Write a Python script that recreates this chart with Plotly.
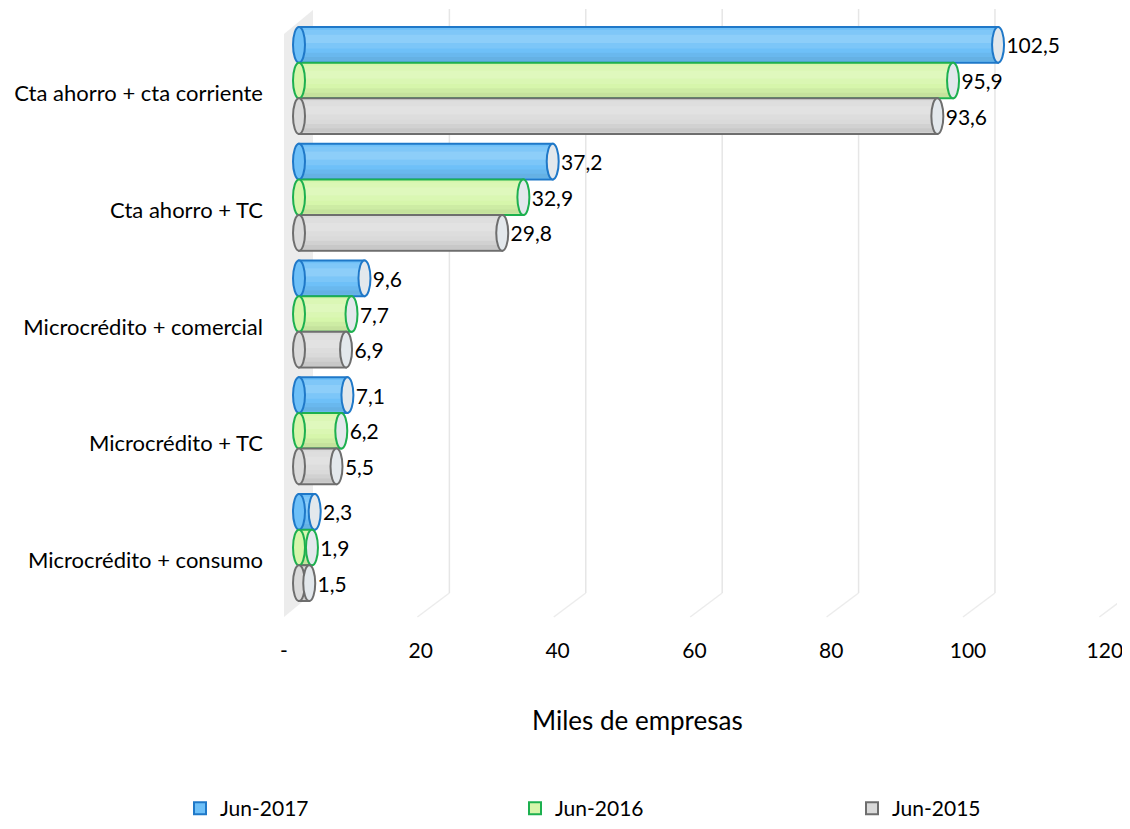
import plotly.graph_objects as go

categories = ["Cta ahorro + cta corriente", "Cta ahorro + TC", "Microcrédito + comercial",
              "Microcrédito + TC", "Microcrédito + consumo"]
series_names = ["Jun-2017", "Jun-2016", "Jun-2015"]
jun_2017 = [102.5, 37.2, 9.6, 7.1, 2.3]
jun_2016 = [95.9, 32.9, 7.7, 6.2, 1.9]
jun_2015 = [93.6, 29.8, 6.9, 5.5, 1.5]
tick_values = [0, 20, 40, 60, 80, 100, 120]
tick_labels = ["-", "20", "40", "60", "80", "100", "120"]

values = [jun_2017, jun_2016, jun_2015]
fills = ["#6ec0f8", "#d6f6ab", "#dadada"]
edges = ["#1f78c8", "#1db04f", "#6e6e6e"]
cap_fill = "#e3e8ec"

OFF = 8                       # page body margin
W, H = 1130 - OFF, 829 - OFF
PL, PR, PT, PB = 280, 1117, 8, 606   # plot area in reference pixels
L, T = PL - OFF, PT - OFF
R, B = W - (PR - OFF), H - (PB - OFF)
pw, ph = PR - PL, PB - PT
FONT = "Lato"

def X(px):
    return (px - PL) / pw

def Y(py):
    return (PB - py) / ph

bargap = 0.083
bw = (1 - bargap) / 3
x_scale = 6.82          # px per unit (bar plane)
x_min = -(299 - PL) / x_scale
x_max = x_min + pw / x_scale
depth = 2.05            # back plane offset in data units
cap_half = 6 / x_scale
front_scale = 6.84
front_min = -(284 - PL) / front_scale

legend_ids = ["legend", "legend2", "legend3"]
legend_left = [180, 515, 852]

fig = go.Figure()
for k, (name, vals) in enumerate(zip(series_names, values)):
    fig.add_trace(go.Bar(
        name=name, y=categories, x=vals, orientation="h", legend=legend_ids[k],
        marker=dict(color=fills[k], line=dict(color=edges[k], width=2)),
        texttemplate="\u00a0%{x:.1f}", textposition="outside",
        textfont=dict(family=FONT, size=21, color="#000000"),
        cliponaxis=False,
    ))

fig.add_trace(go.Scatter(x=[0], y=[categories[0]], xaxis="x2", mode="markers",
                         marker=dict(opacity=0), showlegend=False, hoverinfo="skip"))

shapes = []
# left wall
shapes.append(dict(type="path", xref="paper", yref="paper", layer="below",
                   path=f"M {X(284)},{Y(34)} L {X(313)},{Y(10)} L {X(313)},{Y(593)} L {X(284)},{Y(617)} Z",
                   fillcolor="#ececec", line=dict(width=0)))
# back gridlines and floor lines
for v in tick_values[1:]:
    shapes.append(dict(type="line", xref="x", yref="paper", layer="below",
                       x0=v + depth, x1=v + depth, y0=Y(593), y1=Y(9),
                       line=dict(color="#e6e6e6", width=1.5)))
    shapes.append(dict(type="line", xref="x", yref="paper", layer="below",
                       x0=v + depth, x1=v + depth - 32 / x_scale, y0=Y(593), y1=Y(617),
                       line=dict(color="#ececec", width=1.5)))
# cylinder shading (soft bands)
bands = [(0.08, 0.22, "rgba(255,255,255,0.12)"), (0.22, 0.45, "rgba(255,255,255,0.22)"),
         (0.45, 0.6, "rgba(255,255,255,0.10)"), (0.72, 0.84, "rgba(0,0,0,0.04)"),
         (0.84, 0.96, "rgba(0,0,0,0.08)")]
for k, vals in enumerate(values):
    for i, v in enumerate(vals):
        yc = i + (k - 1) * bw
        top = yc - bw / 2
        for a, b, c in bands:
            shapes.append(dict(type="rect", xref="x", yref="y", x0=0, x1=v,
                               y0=top + bw * a, y1=top + bw * b,
                               fillcolor=c, line=dict(width=0)))
# cylinder caps
for k, vals in enumerate(values):
    for i, v in enumerate(vals):
        yc = i + (k - 1) * bw
        shapes.append(dict(type="circle", xref="x", yref="y",
                           x0=-cap_half, x1=cap_half, y0=yc - bw / 2, y1=yc + bw / 2,
                           fillcolor=fills[k], line=dict(color=edges[k], width=2)))
        shapes.append(dict(type="circle", xref="x", yref="y",
                           x0=v - cap_half, x1=v + cap_half, y0=yc - bw / 2, y1=yc + bw / 2,
                           fillcolor=cap_fill, line=dict(color=edges[k], width=2)))

legend_style = dict(orientation="h", xanchor="left", yanchor="bottom", y=Y(829),
                    font=dict(family=FONT, size=21, color="#000000"),
                    bgcolor="rgba(0,0,0,0)")

fig.update_layout(
    width=W, height=H, margin=dict(l=L, r=R, t=T, b=B),
    paper_bgcolor="white", plot_bgcolor="rgba(0,0,0,0)",
    barmode="group", bargap=bargap, bargroupgap=0,
    separators=",.",
    font=dict(family=FONT, size=21, color="#000000"),
    xaxis=dict(range=[x_min, x_max], showgrid=False, zeroline=False, showticklabels=False,
               showline=False, ticks=""),
    xaxis2=dict(range=[front_min, front_min + pw / front_scale], overlaying="x", anchor="y",
                side="bottom", tickvals=tick_values, ticktext=tick_labels, showgrid=False,
                zeroline=False, showline=False, ticks="", ticklabelstandoff=30,
                tickfont=dict(family=FONT, size=21, color="#000000")),
    yaxis=dict(range=[4 + (PB - 547.5) / 116.75, -(80.5 - PT) / 116.75],
               showgrid=False, zeroline=False, showline=False, ticks="",
               ticklabelstandoff=16, ticklabelshift=-13,
               tickfont=dict(family=FONT, size=22, color="#000000")),
    shapes=shapes,
    showlegend=True,
    legend=dict(x=X(legend_left[0]), **legend_style),
    legend2=dict(x=X(legend_left[1]), **legend_style),
    legend3=dict(x=X(legend_left[2]), **legend_style),
    annotations=[dict(text="Miles de empresas", xref="paper", yref="paper",
                      x=X(637), y=Y(720), xanchor="center", yanchor="middle", showarrow=False,
                      font=dict(family=FONT, size=26, color="#000000"))],
)

fig.write_html("out.html")
